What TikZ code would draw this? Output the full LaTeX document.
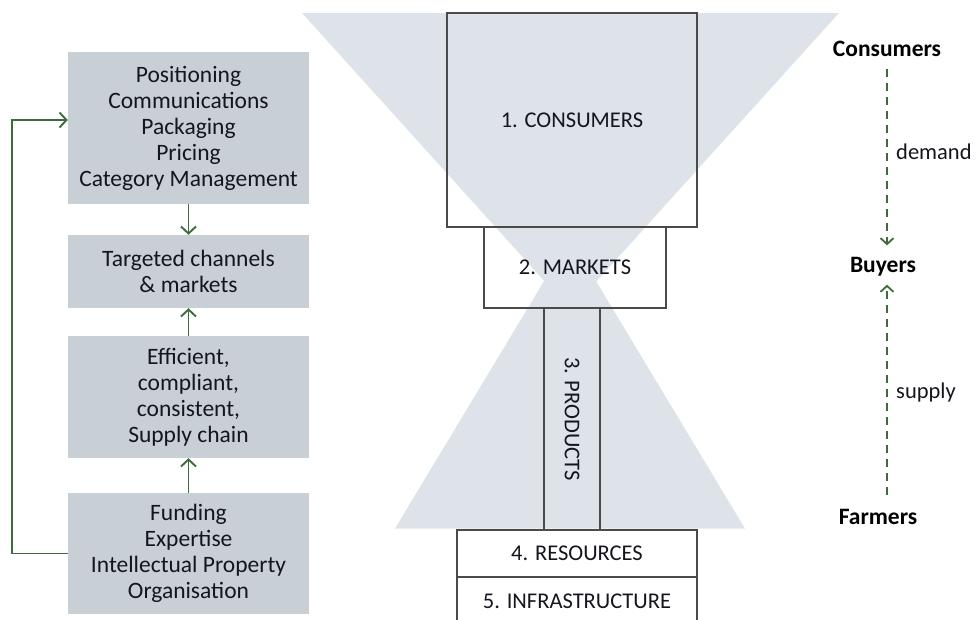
\documentclass[tikz,border=0pt]{standalone}
\usepackage{fontspec}
\setmainfont{Carlito}
\usetikzlibrary{arrows.meta}
\definecolor{tri}{HTML}{DDE3E8}
\definecolor{lb}{HTML}{C8D0D5}
\definecolor{grn}{HTML}{3E6B3A}
\definecolor{bord}{HTML}{4A4A4A}
\definecolor{txt}{HTML}{15151F}
\begin{document}
\begin{tikzpicture}[x=1pt,y=-1pt,
  lbox/.style={fill=lb, inner sep=0pt, align=center, text=txt, minimum width=241pt, font=\fontsize{23.5}{26}\selectfont},
  cbox/.style={draw=bord, line width=1.6pt, inner sep=0pt, text=txt, font=\fontsize{22.5}{26}\selectfont},
  garrow/.style={draw=grn, line width=1.9pt, -{Straight Barb[length=7pt,width=15pt]}},
  darrow/.style={draw=grn, line width=1.8pt, dash pattern=on 8pt off 6pt, -{Straight Barb[length=6pt,width=13pt]}},
  rlab/.style={font=\bfseries\fontsize{23.5}{26}\selectfont, text=black, inner sep=0pt},
  slab/.style={font=\fontsize{22.5}{26}\selectfont, text=txt, inner sep=0pt, anchor=west}]
\useasboundingbox (0,0) rectangle (977,619);
\clip (0,0) rectangle (977,619);
% hourglass
\fill[tri] (302,13) -- (839,13) -- (570.5,310) -- cycle;
\fill[tri] (395,528.5) -- (745,528.5) -- (570,238) -- cycle;
% central boxes
\node[cbox, minimum width=250pt, minimum height=214pt] (c1) at (572,120) {1. CONSUMERS};
\node[cbox, minimum width=182pt, minimum height=81pt] (c2) at (575,267.5) {2. MARKETS};
\node[cbox, rotate=-90, minimum width=222pt, minimum height=56pt] (c3) at (572,419) {3. PRODUCTS};
\node[cbox, minimum width=240pt, minimum height=47pt] (c4) at (577,553.5) {4. RESOURCES};
\node[cbox, minimum width=240pt, minimum height=48pt] (c5) at (577,601) {5. INFRASTRUCTURE};
% left boxes
\node[lbox, minimum height=152pt] (b1) at (188.5,128) {Positioning\\Communications\\Packaging\\Pricing\\Category Management};
\node[lbox, minimum height=73pt] (b2) at (188.5,271.5) {Targeted channels\\\& markets};
\node[lbox, minimum height=122pt] (b3) at (188.5,397) {Efficient,\\compliant,\\consistent,\\Supply chain};
\node[lbox, minimum height=121pt] (b4) at (188.5,553.5) {Funding\\Expertise\\Intellectual Property\\Organisation};
\draw[garrow] (b1.south) -- (b2.north);
\draw[garrow] (b3.north) -- (b2.south);
\draw[garrow] (b4.north) -- (b3.south);
\coordinate (fbl) at (12,553.5);
\draw[garrow] (b4.west) -- (fbl) |- ([yshift=8pt]b1.west);
% right labels
\node[rlab] (cons) at (887,49) {Consumers};
\node[rlab] (buy) at (883,267) {Buyers};
\node[rlab] (farm) at (878,517) {Farmers};
\node[slab] (dem) at (896,152) {demand};
\node[slab] (sup) at (896,392) {supply};
\draw[darrow] ([yshift=-12pt]cons.south) -- ([yshift=12pt]cons.south |- buy.north);
\draw[darrow] ([yshift=14pt]cons.south |- farm.north) -- ([yshift=-8pt]cons.south |- buy.south);
\end{tikzpicture}
\end{document}
